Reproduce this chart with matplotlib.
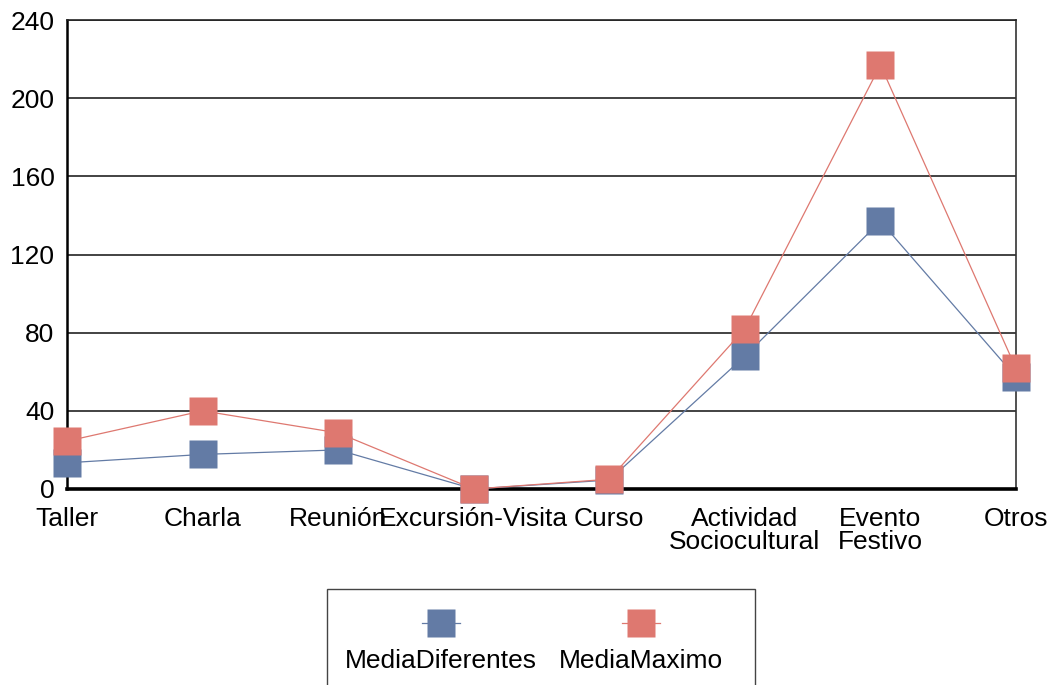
import matplotlib.pyplot as plt
from matplotlib.lines import Line2D
from matplotlib.patches import Rectangle

plt.rcParams['font.family'] = ['Liberation Sans', 'DejaVu Sans']

# datos
categorias = ['Taller', 'Charla', 'Reunión', 'Excursión-Visita', 'Curso',
              'Actividad\nSociocultural', 'Evento\nFestivo', 'Otros']
media_diferentes = [13.4, 17.7, 20, 0, 4.6, 68, 137, 57.3]
media_maximo = [24.5, 40, 28.7, 0, 5, 82, 217, 61.7]
y_ticks = [0, 40, 80, 120, 160, 200, 240]

azul = '#637BA5'
rojo = '#DE7870'
fs = 19

W, H = 1058, 685
fig = plt.figure(figsize=(W / 100, H / 100), dpi=100)
ax = fig.add_axes([67 / W, (H - 489) / H, (1016 - 67) / W, (489 - 20) / H])

x = list(range(len(categorias)))
ax.plot(x, media_diferentes, color=azul, lw=0.9, marker='s', ms=19.5,
        mec='none', clip_on=False, zorder=3)
ax.plot(x, media_maximo, color=rojo, lw=0.9, marker='s', ms=19.5,
        mec='none', clip_on=False, zorder=4)

ax.set_xlim(0, 7)
ax.set_ylim(0, 240)
ax.set_yticks(y_ticks)
ax.set_xticks(x)
ax.set_xticklabels(categorias, fontsize=fs, linespacing=0.95)
ax.tick_params(axis='y', labelsize=fs, length=0, pad=9)
ax.tick_params(axis='x', length=0, pad=13)
ax.grid(axis='y', color='#222222', lw=1.2)
ax.set_axisbelow(True)

for s in ['left', 'bottom']:
    ax.spines[s].set_color('black')
ax.spines['left'].set_linewidth(1.8)
ax.spines['bottom'].set_linewidth(2.6)
ax.spines['top'].set_color('#222222')
ax.spines['top'].set_linewidth(1.2)
ax.spines['right'].set_color('#333333')
ax.spines['right'].set_linewidth(1.2)

# leyenda dibujada a mano (marcador encima del texto)
fig.add_artist(Rectangle((327 / W, -0.01), (755 - 327) / W, (H - 589) / H + 0.01,
                         transform=fig.transFigure, fill=False,
                         edgecolor='#444444', lw=1.0))
for cx, col, nombre in [(441, azul, 'MediaDiferentes'), (641, rojo, 'MediaMaximo')]:
    fig.add_artist(Line2D([(cx - 19) / W, (cx + 19) / W], [(H - 623) / H] * 2,
                          color=col, lw=0.9, transform=fig.transFigure))
    fig.add_artist(Line2D([cx / W], [(H - 623) / H], color=col, marker='s',
                          ms=19.5, mec='none', transform=fig.transFigure))
    fig.text(cx / W, (H - 661) / H, nombre, fontsize=fs, ha='center', va='center')

fig.savefig('out.png', dpi=100)
